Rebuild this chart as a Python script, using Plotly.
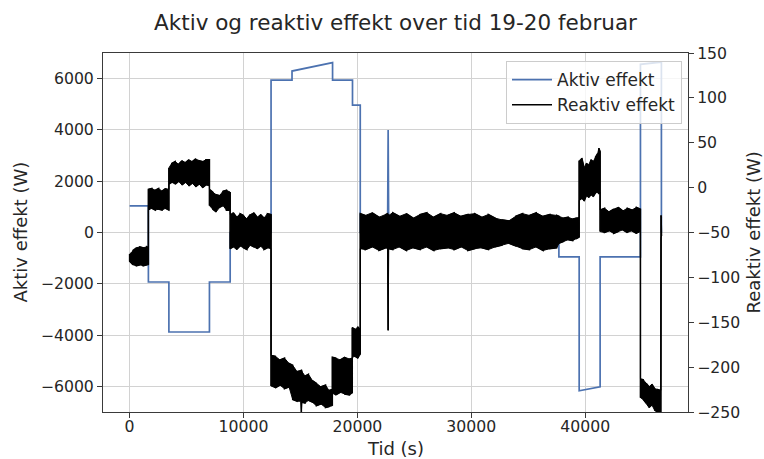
import plotly.graph_objects as go

# ---- Aktiv effekt (W), left axis ----
act_t = [0, 1650, 1650, 3450, 3450, 7010, 7010, 8830, 8830, 12420, 12420, 14260, 14260, 17820, 17820,
         19570, 19570, 20250, 20250, 22650, 22700, 22750, 37690, 37690, 39470, 39470, 41310, 41310,
         44850, 44850, 46690, 46690]
act_p = [1040, 1040, -1930, -1930, -3880, -3880, -1930, -1930, 0, 0, 5940, 5940, 6296, 6624, 5940,
         5940, 4970, 4970, 0, 0, 4000, 0, 0, -950, -950, -6170, -6020, -950,
         -950, 6557, 6647, 0]

# ---- Reaktiv effekt (W), right axis: read upper / lower edge of the noisy band ----
react_t = [0, 300, 600, 900, 1200, 1500, 1650,
           1650, 1950, 2250, 2550, 2850, 3150, 3450,
           3450, 3700, 4000, 4300, 4600, 4900, 5200, 5500, 5800, 6100, 6400, 6700, 7010,
           7010, 7300, 7600, 7900, 8200, 8500, 8830,
           8830, 9100, 9400, 9700, 10000, 10300, 10600, 10900, 11200, 11500, 11800, 12100, 12420,
           12420, 12800, 13200, 13600, 14000, 14320, 14700, 15030, 15080, 15130, 15400, 15700, 16050,
           16400, 16800, 17200, 17500, 17800, 17800, 18100, 18500, 18900, 19300, 19550, 19550, 19800,
           20050, 20250,
           20250, 20700, 21300, 21900, 22500, 22650, 22700, 22750, 23100, 23700, 24300, 24900, 25500,
           26100, 26700, 27300, 27900, 28500, 29100, 29700, 30300, 30900, 31500, 32100, 32700, 33300,
           33900, 34500, 35100, 35700, 36300, 36900, 37500, 37700, 38100, 38500, 38900, 39200, 39470,
           39470, 39700, 39900, 40100, 40300, 40500, 40700, 40900, 41100, 41200, 41310,
           41310, 41700, 42100, 42500, 42900, 43300, 43700, 44100, 44500, 44850,
           44850, 45100, 45350, 45600, 45850, 46100, 46350, 46640,
           46660, 46700]
react_hi = [-74, -70, -67, -66, -67, -66, -67,
            -2, -1, -3, -1, -4, -1, -2,
            22, 27, 29, 26, 30, 28, 31, 29, 32, 30, 29, 31, 31,
            -2, -5, -8, -9, -4, -3, -5,
            -30, -28, -33, -29, -31, -35, -30, -28, -33, -30, -34, -29, -30,
            -187, -188, -192, -190, -196, -198, -205, -204, -203, -205, -210, -208, -215,
            -218, -222, -220, -226, -225, -189, -190, -192, -189, -191, -190, -156, -158,
            -155, -160,
            -29, -31, -28, -33, -30, -29, -30, -31, -28, -32, -29, -34, -30,
            -28, -33, -29, -31, -28, -32, -30, -29, -33, -30, -34, -36, -37,
            -32, -29, -31, -28, -32, -30, -31, -32, -34, -33, -35, -34, -33,
            30, 33, 22, 27, 25, 31, 29, 34, 38, 44, 40,
            -25, -23, -27, -24, -22, -26, -23, -25, -22, -24,
            -213, -214, -218, -222, -219, -224, -225, -226,
            -31, -33]
react_lo = [-82, -86, -87, -86, -87, -86, -86,
            -25, -23, -25, -24, -25, -23, -25,
            4, 6, 4, 7, 3, 6, 2, 5, 1, 4, 0, 3, 2,
            -20, -24, -27, -22, -20, -25, -24,
            -68, -66, -69, -65, -67, -69, -64, -66, -68, -65, -69, -67, -68,
            -221, -223, -220, -224, -222, -236, -238, -238, -250, -239, -240, -237, -239,
            -243, -241, -245, -244, -243, -229, -231, -228, -230, -231, -229, -189, -188,
            -190, -186,
            -68, -69, -66, -70, -67, -68, -159, -68, -69, -66, -70, -67, -69,
            -66, -70, -68, -67, -69, -66, -70, -68, -67, -69, -66, -64, -62,
            -65, -68, -69, -66, -70, -68, -67, -62, -60, -58, -59, -57, -55,
            -14, -12, -15, -9, -11, -8, -10, -6, -5, -7, -5,
            -49, -50, -48, -51, -49, -47, -50, -48, -51, -49,
            -234, -236, -240, -245, -242, -248, -250, -250,
            -56, -54]

x_ticks = [0, 10000, 20000, 30000, 40000]
x_labels = ["0", "10000", "20000", "30000", "40000"]
y_ticks = [-6000, -4000, -2000, 0, 2000, 4000, 6000]
y_labels = ["\u22126000", "\u22124000", "\u22122000", "0", "2000", "4000", "6000"]
y2_ticks = [-250, -200, -150, -100, -50, 0, 50, 100, 150]
y2_labels = ["\u2212250", "\u2212200", "\u2212150", "\u2212100", "\u221250", "0", "50", "100", "150"]

assert len(act_t) == len(act_p)
assert len(react_t) == len(react_hi) == len(react_lo)

FONT = "DejaVu Sans"
TXT = "#262626"
SPINE = "#3a3a3a"

fig = go.Figure()
fig.add_trace(go.Scatter(x=act_t, y=act_p, mode="lines", name="Aktiv effekt",
                         line=dict(color="#4C72B0", width=1.7), yaxis="y"))

# band fill for the reactive power
poly_x = react_t + react_t[::-1]
poly_y = react_hi + react_lo[::-1]
fig.add_trace(go.Scatter(x=poly_x, y=poly_y, mode="lines", fill="toself", fillcolor="black",
                         line=dict(color="black", width=1), yaxis="y2", showlegend=False,
                         hoverinfo="skip"))
# zig-zag line through the band edges
zx, zy = [], []
for i, (t, h, l) in enumerate(zip(react_t, react_hi, react_lo)):
    zx += [t, t]
    zy += [h, l] if i % 2 == 0 else [l, h]
fig.add_trace(go.Scatter(x=zx, y=zy, mode="lines", name="Reaktiv effekt",
                         line=dict(color="black", width=1.5), yaxis="y2"))

W, H = 764, 459
L, R, T, B = 103, 76, 53, 47
pw = W - L - R
ph = H - T - B

fig.update_layout(
    width=W, height=H,
    margin=dict(l=L, r=R, t=T, b=B, pad=0),
    paper_bgcolor="white", plot_bgcolor="white",
    font=dict(family=FONT, color=TXT, size=15.7),
    title=dict(text="Aktiv og reaktiv effekt over tid 19-20 februar", x=0.5, xref="paper",
               xanchor="center", y=1 - 22 / H, yref="container", yanchor="middle",
               font=dict(size=21.5, family=FONT, color=TXT)),
    xaxis=dict(range=[-2335, 49025], tickvals=x_ticks, ticktext=x_labels,
               showgrid=True, gridcolor="#d2d2d2", gridwidth=1, zeroline=False,
               showline=True, linecolor=SPINE, linewidth=1, mirror=True,
               ticks="outside", ticklen=5, tickcolor=SPINE, tickfont=dict(size=15.7),
               ticklabelstandoff=-5),
    yaxis=dict(range=[-7000, 7000], tickvals=y_ticks, ticktext=y_labels,
               showgrid=True, gridcolor="#d2d2d2", gridwidth=1, zeroline=False,
               showline=True, linecolor=SPINE, linewidth=1, mirror=True,
               ticks="outside", ticklen=5, tickcolor=SPINE, tickfont=dict(size=15.7)),
    yaxis2=dict(range=[-250, 150], tickvals=y2_ticks, ticktext=y2_labels, overlaying="y",
                side="right", showgrid=False, zeroline=False, showline=False,
                ticks="outside", ticklen=5, tickcolor=SPINE, tickfont=dict(size=15.7)),
    legend=dict(x=(682 - L) / pw, xanchor="right", y=(H - B - 61) / ph, yanchor="top",
                bgcolor="rgba(255,255,255,0.8)", bordercolor="#cccccc", borderwidth=1,
                itemwidth=40, font=dict(size=17, family=FONT, color=TXT)),
    showlegend=True,
    annotations=[
        dict(text="Tid (s)", x=0.5, xref="paper", y=-(448 - (H - B)) / ph, yref="paper",
             showarrow=False, xanchor="center", yanchor="middle", font=dict(size=18)),
        dict(text="Aktiv effekt (W)", x=(20 - L) / pw, xref="paper", y=0.5, yref="paper",
             showarrow=False, textangle=-90, xanchor="center", yanchor="middle",
             font=dict(size=18)),
        dict(text="Reaktiv effekt (W)", x=(753 - L) / pw, xref="paper", y=0.5, yref="paper",
             showarrow=False, textangle=-90, xanchor="center", yanchor="middle",
             font=dict(size=18)),
    ],
)

fig.write_html("out.html")
